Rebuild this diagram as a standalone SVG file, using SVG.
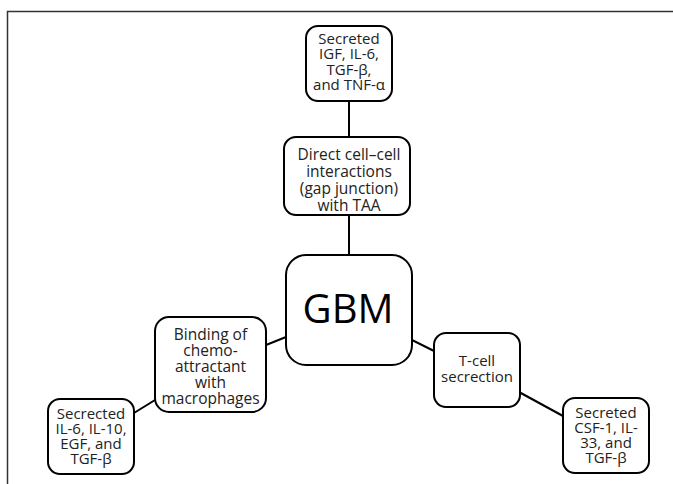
<svg xmlns="http://www.w3.org/2000/svg" width="673" height="484" viewBox="0 0 673 484">
<style>
.box{fill:#fff;stroke:#000;stroke-width:2}
.t{font-family:"Open Sans","Liberation Sans",sans-serif;font-size:15px;fill:#222;text-anchor:middle}
.m{font-size:15.5px}
.big{font-family:"Open Sans","Liberation Sans",sans-serif;font-size:40px;fill:#000;text-anchor:middle}
.c{stroke:#000;stroke-width:2;fill:none}
</style>
<rect width="673" height="484" fill="#fff"/>
<path d="M7.5 484V11.5H673" fill="none" stroke="#333" stroke-width="1.5"/>
<g id="connectors">
<line class="c" x1="349" y1="101" x2="349" y2="137"/>
<line class="c" x1="349" y1="215" x2="349" y2="255"/>
<line class="c" x1="266" y1="345" x2="286" y2="337"/>
<line class="c" x1="134" y1="413" x2="155" y2="400"/>
<line class="c" x1="412" y1="340" x2="434" y2="351"/>
<line class="c" x1="519" y1="392" x2="563" y2="416"/>
</g>
<g id="n-top">
<rect class="box" x="306" y="26" width="86" height="75" rx="12"/>
<text class="t" x="349" y="43.5">Secreted</text>
<text class="t" x="349" y="59">IGF, IL-6,</text>
<text class="t" x="349" y="74.5">TGF-β,</text>
<text class="t" x="349" y="90">and TNF-α</text>
</g>
<g id="n-direct">
<rect class="box" x="284" y="137" width="126" height="78" rx="12"/>
<text class="t m" x="349" y="159.5">Direct cell–cell</text>
<text class="t m" x="349" y="176.5">interactions</text>
<text class="t m" x="349" y="193.5">(gap junction)</text>
<text class="t m" x="349" y="210.5">with TAA</text>
</g>
<g id="n-gbm">
<rect class="box" x="286" y="255" width="126" height="110" rx="20"/>
<text class="big" x="348" y="323">GBM</text>
</g>
<g id="n-binding">
<rect class="box" x="155" y="317" width="111" height="95" rx="14"/>
<text class="t m" x="210.5" y="339.5">Binding of</text>
<text class="t m" x="210.5" y="355.5">chemo-</text>
<text class="t m" x="210.5" y="371.5">attractant</text>
<text class="t m" x="210.5" y="387.5">with</text>
<text class="t m" x="210.5" y="403.5">macrophages</text>
</g>
<g id="n-left">
<rect class="box" x="48" y="399" width="86" height="75" rx="12"/>
<text class="t" x="91" y="418.5">Secrected</text>
<text class="t" x="91" y="433.5">IL-6, IL-10,</text>
<text class="t" x="91" y="448.5">EGF, and</text>
<text class="t" x="91" y="463.5">TGF-β</text>
</g>
<g id="n-tcell">
<rect class="box" x="434" y="333" width="86" height="74" rx="12"/>
<text class="t" x="477" y="366">T-cell</text>
<text class="t" x="477" y="382">secrection</text>
</g>
<g id="n-right">
<rect class="box" x="563" y="398" width="86" height="75" rx="12"/>
<text class="t" x="606" y="417.5">Secreted</text>
<text class="t" x="606" y="432.5">CSF-1, IL-</text>
<text class="t" x="606" y="447.5">33, and</text>
<text class="t" x="606" y="462.5">TGF-β</text>
</g>
</svg>
